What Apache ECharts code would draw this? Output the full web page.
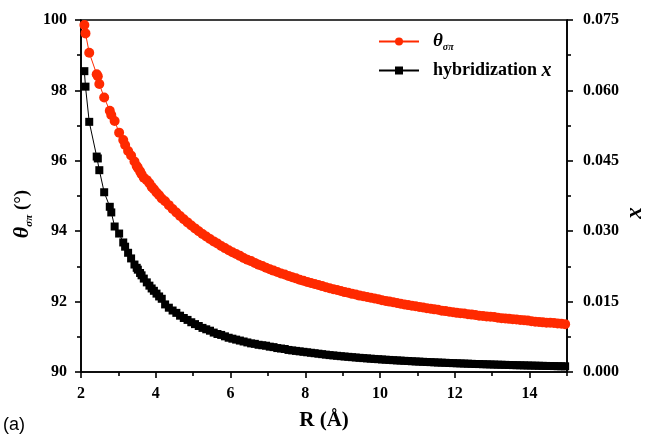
<!DOCTYPE html>
<html>
<head>
<meta charset="utf-8">
<script src="https://cdn.jsdelivr.net/npm/echarts@6/dist/echarts.min.js"></script>
<style>
  html, body { margin: 0; padding: 0; background: #fff; }
  #chart { width: 647px; height: 435px; }
</style>
</head>
<body>
<div id="chart"></div>
<script>
// Tube radius R (Å)
const radius = [
  2.09, 2.12, 2.22, 2.42, 2.45, 2.49, 2.62, 2.77, 2.81, 2.90, 3.02, 3.13, 3.18, 3.26,
  3.34, 3.43, 3.49, 3.52, 3.58, 3.62, 3.68, 3.76, 3.83, 3.89, 3.95, 4.02, 4.09, 4.16,
  4.25, 4.35, 4.45, 4.55, 4.65, 4.75, 4.85, 4.95,
  5.05, 5.15, 5.25, 5.35, 5.45, 5.55, 5.65, 5.75, 5.85, 5.95,
  6.05, 6.15, 6.25, 6.35, 6.45, 6.55, 6.65, 6.75, 6.85, 6.95,
  7.05, 7.15, 7.25, 7.35, 7.45, 7.55, 7.65, 7.75, 7.85, 7.95,
  8.05, 8.15, 8.25, 8.35, 8.45, 8.55, 8.65, 8.75, 8.85, 8.95,
  9.05, 9.15, 9.25, 9.35, 9.45, 9.55, 9.65, 9.75, 9.85, 9.95,
  10.05, 10.15, 10.25, 10.35, 10.45, 10.55, 10.65, 10.75, 10.85, 10.95,
  11.05, 11.15, 11.25, 11.35, 11.45, 11.55, 11.65, 11.75, 11.85, 11.95,
  12.05, 12.15, 12.25, 12.35, 12.45, 12.55, 12.65, 12.75, 12.85, 12.95,
  13.05, 13.15, 13.25, 13.35, 13.45, 13.55, 13.65, 13.75, 13.85, 13.95,
  14.05, 14.15, 14.25, 14.35, 14.45, 14.55, 14.65, 14.75, 14.85, 14.95
];

// σ–π angle θσπ (degrees), left axis
const thetaSigmaPi = [
  99.86, 99.62, 99.07, 98.46, 98.40, 98.18, 97.80, 97.42, 97.30, 97.13, 96.80, 96.59, 96.45, 96.28,
  96.15, 95.98, 95.85, 95.80, 95.70, 95.62, 95.52, 95.45, 95.36, 95.26, 95.19, 95.10, 95.02, 94.93,
  94.85, 94.74, 94.63, 94.53, 94.43, 94.34, 94.25, 94.16,
  94.08, 94.00, 93.92, 93.85, 93.78, 93.71, 93.65, 93.58, 93.52, 93.46,
  93.40, 93.35, 93.30, 93.24, 93.19, 93.15, 93.10, 93.05, 93.01, 92.96,
  92.92, 92.88, 92.84, 92.80, 92.77, 92.73, 92.69, 92.66, 92.62, 92.59,
  92.56, 92.53, 92.50, 92.47, 92.44, 92.41, 92.38, 92.35, 92.33, 92.30,
  92.27, 92.25, 92.22, 92.20, 92.17, 92.15, 92.13, 92.11, 92.09, 92.07,
  92.04, 92.02, 92.00, 91.98, 91.96, 91.94, 91.92, 91.90, 91.88, 91.87,
  91.85, 91.83, 91.81, 91.80, 91.78, 91.77, 91.74, 91.73, 91.71, 91.70,
  91.68, 91.67, 91.66, 91.64, 91.63, 91.62, 91.60, 91.59, 91.58, 91.57,
  91.56, 91.54, 91.53, 91.52, 91.51, 91.50, 91.49, 91.48, 91.47, 91.46,
  91.44, 91.43, 91.42, 91.41, 91.40, 91.40, 91.39, 91.38, 91.37, 91.36
];

// Hybridization parameter x, right axis
const hybridX = [
  0.0641, 0.0608, 0.0533, 0.0459, 0.0455, 0.0430, 0.0383, 0.0352, 0.0340, 0.0310, 0.0295, 0.0276, 0.0267, 0.0254,
  0.0242, 0.0229, 0.0222, 0.0218, 0.0211, 0.0206, 0.0199, 0.0191, 0.0184, 0.0178, 0.0173, 0.0167, 0.0161, 0.0156,
  0.0144, 0.0137, 0.0131, 0.0126, 0.0120, 0.0115, 0.0111, 0.0106,
  0.0102, 0.0098, 0.0094, 0.0091, 0.0088, 0.0084, 0.0081, 0.0079, 0.0076, 0.0073,
  0.0071, 0.0069, 0.0067, 0.0065, 0.0063, 0.0061, 0.0060, 0.0058, 0.0057, 0.0056,
  0.0054, 0.0053, 0.0051, 0.0050, 0.0049, 0.0047, 0.0046, 0.0045, 0.0044, 0.0043,
  0.0042, 0.0041, 0.0040, 0.0039, 0.0038, 0.0037, 0.0036, 0.00353, 0.00345, 0.00337,
  0.00330, 0.00323, 0.00316, 0.00309, 0.00302, 0.00296, 0.00290, 0.00284, 0.00278, 0.00273,
  0.00267, 0.00262, 0.00257, 0.00252, 0.00247, 0.00243, 0.00238, 0.00234, 0.00229, 0.00225,
  0.00221, 0.00217, 0.00213, 0.00210, 0.00206, 0.00202, 0.00199, 0.00196, 0.00192, 0.00189,
  0.00186, 0.00183, 0.00180, 0.00177, 0.00174, 0.00171, 0.00169, 0.00166, 0.00164, 0.00161,
  0.00159, 0.00156, 0.00154, 0.00152, 0.00149, 0.00147, 0.00145, 0.00143, 0.00141, 0.00139,
  0.00137, 0.00135, 0.00133, 0.00131, 0.00129, 0.00128, 0.00126, 0.00124, 0.00122, 0.00121
];

const xMajorTicks = [2, 4, 6, 8, 10, 12, 14];
const xMinorTicks = [3, 5, 7, 9, 11, 13, 15];

const SERIF = '"Liberation Serif", "Times New Roman", serif';
const RED = '#ff2a00';

const chart = echarts.init(document.getElementById('chart'), null, { renderer: 'canvas' });

const labelStyle = { fontFamily: SERIF, fontWeight: 'bold', fontSize: 16, color: '#000' };
const axisLine = { show: true, lineStyle: { color: '#000', width: 1.6 } };
const tickLine = { color: '#000', width: 1.6 };

chart.setOption({
  animation: false,
  backgroundColor: '#fff',
  grid: {
    left: 81, right: 80, top: 20, bottom: 63,
    outerBoundsMode: 'none',
    containLabel: false,
    show: true, borderColor: '#000', borderWidth: 1.6, backgroundColor: 'transparent'
  },
  legend: {
    orient: 'vertical',
    left: 373, top: 27,
    itemWidth: 40, itemHeight: 10, itemGap: 8,
    data: ['theta', 'hyb'],
    formatter: function (name) {
      return name === 'theta' ? '{t|θ}{s|σπ}' : '{b|hybridization }{i|x}';
    },
    textStyle: {
      color: '#000',
      rich: {
        t: { fontFamily: SERIF, fontWeight: 'bold', fontStyle: 'italic', fontSize: 19, lineHeight: 22, padding: [0, 0, 0, 9] },
        s: { fontFamily: SERIF, fontWeight: 'bold', fontStyle: 'italic', fontSize: 10, lineHeight: 10, verticalAlign: 'bottom' },
        b: { fontFamily: SERIF, fontWeight: 'bold', fontSize: 18, lineHeight: 22, padding: [0, 0, 0, 9] },
        i: { fontFamily: SERIF, fontWeight: 'bold', fontStyle: 'italic', fontSize: 20, lineHeight: 22 }
      }
    }
  },
  xAxis: [
    {
      type: 'value', min: 2, max: 15, position: 'bottom',
      axisLine: axisLine,
      axisTick: { show: true, length: 6, customValues: xMajorTicks, lineStyle: tickLine },
      axisLabel: Object.assign({ margin: 14, customValues: xMajorTicks }, labelStyle),
      splitLine: { show: false },
      name: 'R (Å)', nameLocation: 'middle', nameGap: 38,
      nameTextStyle: { fontFamily: SERIF, fontWeight: 'bold', fontSize: 21, color: '#000' }
    },
    {
      // odd-valued minor ticks along the bottom edge
      type: 'value', min: 2, max: 15, position: 'bottom',
      axisLine: { show: false },
      axisTick: { show: true, length: 4, customValues: xMinorTicks, lineStyle: tickLine },
      axisLabel: { show: false },
      splitLine: { show: false }
    }
  ],
  yAxis: [
    {
      type: 'value', min: 90, max: 100, interval: 2, position: 'left',
      axisLine: axisLine,
      axisTick: { show: true, length: 6, lineStyle: tickLine },
      minorTick: { show: true, splitNumber: 2, length: 4, lineStyle: tickLine },
      axisLabel: Object.assign({ margin: 14 }, labelStyle),
      splitLine: { show: false }
    },
    {
      type: 'value', min: 0, max: 0.075, interval: 0.015, position: 'right',
      axisLine: axisLine,
      axisTick: { show: true, length: 6, lineStyle: tickLine },
      minorTick: { show: true, splitNumber: 2, length: 4, lineStyle: tickLine },
      axisLabel: Object.assign({ margin: 16, formatter: v => v.toFixed(3) }, labelStyle),
      splitLine: { show: false }
    }
  ],
  series: [
    {
      name: 'theta', type: 'line', xAxisIndex: 0, yAxisIndex: 0,
      data: radius.map((r, i) => [r, thetaSigmaPi[i]]),
      symbol: 'circle', symbolSize: 10, showAllSymbol: true,
      itemStyle: { color: RED },
      lineStyle: { color: RED, width: 1 }
    },
    {
      name: 'hyb', type: 'line', xAxisIndex: 0, yAxisIndex: 1,
      data: radius.map((r, i) => [r, hybridX[i]]),
      symbol: 'rect', symbolSize: 8, showAllSymbol: true,
      itemStyle: { color: '#000' },
      lineStyle: { color: '#000', width: 1 }
    }
  ],
  graphic: [
    {
      // left axis title θσπ (°)
      type: 'text', x: 22, y: 214, rotation: Math.PI / 2,
      style: {
        text: '{t|θ}{s|σπ}{n| (°)}',
        align: 'center', verticalAlign: 'middle', fill: '#000',
        rich: {
          t: { fontFamily: SERIF, fontWeight: 'bold', fontStyle: 'italic', fontSize: 22, lineHeight: 26, fill: '#000' },
          s: { fontFamily: SERIF, fontWeight: 'bold', fontStyle: 'italic', fontSize: 11, lineHeight: 11, verticalAlign: 'bottom', fill: '#000' },
          n: { fontFamily: SERIF, fontWeight: 'bold', fontSize: 19, lineHeight: 26, fill: '#000' }
        }
      }
    },
    {
      // right axis title
      type: 'text', x: 635, y: 213, rotation: Math.PI / 2,
      style: {
        text: 'x', align: 'center', verticalAlign: 'middle', fill: '#000',
        font: 'italic bold 23px "Liberation Serif", "Times New Roman", serif'
      }
    },
    {
      type: 'text', left: 3, top: 416,
      style: { text: '(a)', font: '18px "Liberation Sans", Arial, sans-serif', fill: '#000' }
    }
  ]
});
</script>
</body>
</html>
